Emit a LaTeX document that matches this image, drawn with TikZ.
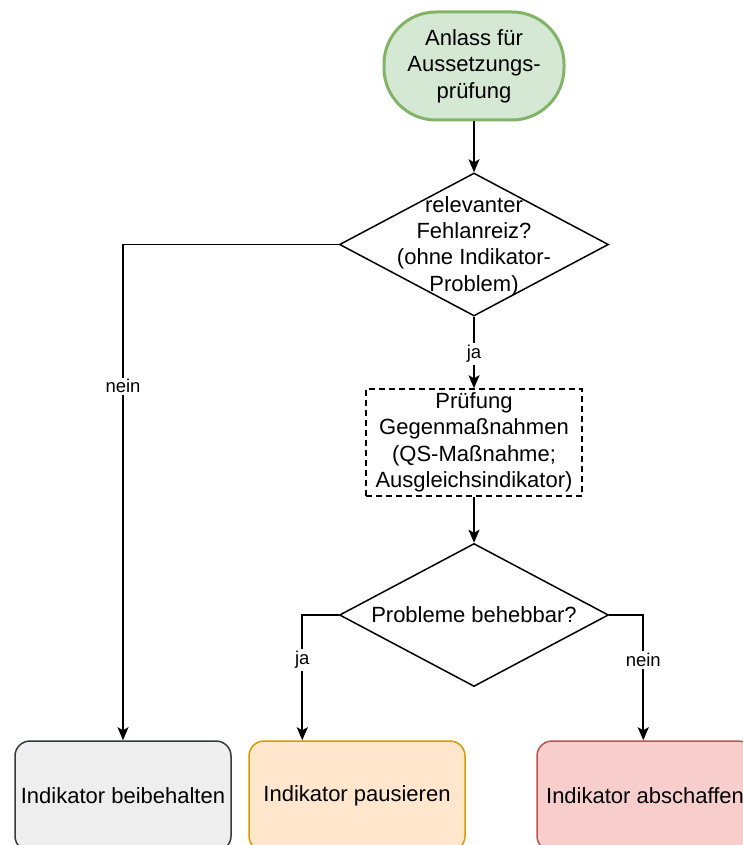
\documentclass[tikz,border=0pt]{standalone}
\usepackage{fontspec}
\setmainfont{Liberation Sans}
\usetikzlibrary{shapes.geometric,arrows.meta,calc}
\definecolor{greenfill}{HTML}{D5E8D4}
\definecolor{greenline}{HTML}{82B366}
\definecolor{grayfill}{HTML}{EEEEEE}
\definecolor{grayline}{HTML}{36393D}
\definecolor{orangefill}{HTML}{FFE6CC}
\definecolor{orangeline}{HTML}{D79B00}
\definecolor{redfill}{HTML}{F8CECC}
\definecolor{redline}{HTML}{B85450}
\begin{document}
\begin{tikzpicture}[x=1pt,y=-1pt,
  txt/.style={align=center,font=\fontsize{22}{26.4}\selectfont,inner sep=0pt},
  terminal/.style={txt,draw=greenline,fill=greenfill,line width=3pt,
    minimum width=180pt,minimum height=108pt,rounded corners=52pt},
  decision/.style={draw,diamond,line width=1.5pt,inner sep=0pt,
    minimum width=269pt,minimum height=143pt},
  checkbox/.style={txt,draw,dashed,dash pattern=on 6pt off 4pt,line width=1.5pt,
    minimum width=216pt,minimum height=107pt},
  result/.style={txt,line width=1.5pt,rounded corners=15pt,
    minimum width=216pt,minimum height=110pt},
  arr/.style={line width=1.7pt,-{Stealth[length=13pt,width=11pt,inset=3pt]}},
  lbl/.style={fill=white,inner sep=2pt,font=\fontsize{18.5}{21}\selectfont}]
\useasboundingbox (0,0) rectangle (743,845);
\clip (0,0) rectangle (743,845);

% start and checks
\node[terminal] (start) at (474,66) {Anlass für\\Aussetzungs-\\prüfung};
\node[decision] (d1) at (474,244.5) {};
\node[txt] (d1t) at (474,246) {relevanter\\Fehlanreiz?\\(ohne Indikator-\\Problem)};
\node[checkbox] (check) at (474,442.5) {Prüfung\\Gegenmaßnahmen\\(QS-Maßnahme;\\Ausgleichsindikator)};
\node[decision] (d2) at (474,615) {};
\node[txt] (d2t) at (474,615) {Probleme behebbar?};

% outcomes
\node[result,draw=grayline,fill=grayfill] (keep) at (123,796) {Indikator beibehalten};
\node[result,draw=orangeline,fill=orangefill] (pause) at (357,796) {Indikator pausieren};
\node[result,draw=redline,fill=redfill] (drop) at (645,796) {Indikator abschaffen};

% connectors
\draw[arr] (start) -- (d1);
\draw[arr] (d1.south) -- node[lbl,pos=0.52] {ja} (check.north);
\draw[arr] (d1.west) -| node[lbl,pos=0.643] {nein} (keep.north);
\draw[arr] (check.south) -- (d2.north);
\draw[arr] (d2.west) -| node[lbl,pos=0.68] {ja} ([xshift=54pt]pause.north west);
\draw[arr] (d2.east) -| node[lbl,pos=0.68] {nein} ([xshift=107pt]drop.north west);
\end{tikzpicture}
\end{document}
